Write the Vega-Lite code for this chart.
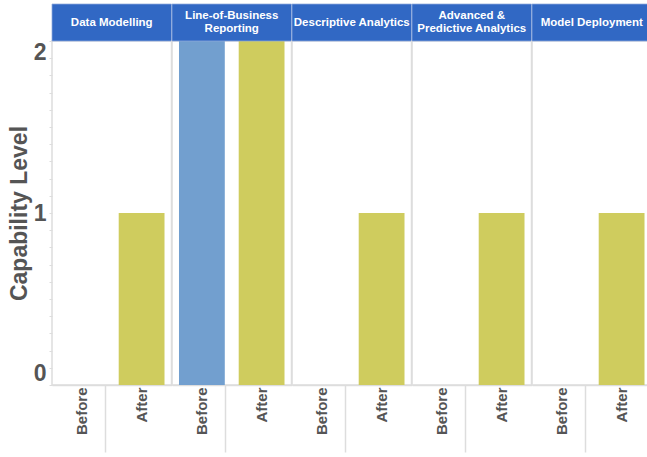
{
  "$schema": "https://vega.github.io/schema/vega-lite/v6.json",
  "padding": {"left": 8, "top": 2, "right": 0, "bottom": 0},
  "background": "white",
  "bounds": "flush",
  "data": {"values": [
    {"category": "Data Modelling", "header": "Data Modelling", "lines": 1, "status": "Before", "level": 0},
    {"category": "Data Modelling", "header": "Data Modelling", "lines": 1, "status": "After", "level": 1},
    {"category": "Line-of-Business Reporting", "header": "Line-of-Business\nReporting", "lines": 2, "status": "Before", "level": 2},
    {"category": "Line-of-Business Reporting", "header": "Line-of-Business\nReporting", "lines": 2, "status": "After", "level": 2},
    {"category": "Descriptive Analytics", "header": "Descriptive Analytics", "lines": 1, "status": "Before", "level": 0},
    {"category": "Descriptive Analytics", "header": "Descriptive Analytics", "lines": 1, "status": "After", "level": 1},
    {"category": "Advanced & Predictive Analytics", "header": "Advanced &\nPredictive Analytics", "lines": 2, "status": "Before", "level": 0},
    {"category": "Advanced & Predictive Analytics", "header": "Advanced &\nPredictive Analytics", "lines": 2, "status": "After", "level": 1},
    {"category": "Model Deployment", "header": "Model Deployment", "lines": 1, "status": "Before", "level": 0},
    {"category": "Model Deployment", "header": "Model Deployment", "lines": 1, "status": "After", "level": 1}
  ]},
  "facet": {
    "column": {
      "field": "category", "type": "nominal",
      "sort": ["Data Modelling", "Line-of-Business Reporting", "Descriptive Analytics", "Advanced & Predictive Analytics", "Model Deployment"],
      "header": {"labels": false, "title": null}
    }
  },
  "spacing": 0,
  "spec": {
    "width": 119.5,
    "height": 344,
    "layer": [
      {
        "mark": {"type": "bar"},
        "encoding": {
          "x": {
            "field": "status", "type": "nominal", "sort": ["Before", "After"],
            "scale": {"paddingInner": 0.233, "paddingOuter": 0.117},
            "axis": {
              "title": null, "labelAngle": 270, "labelFontSize": 15, "labelFontWeight": "bold", "labelColor": "#555555",
              "domain": true, "domainColor": "#dddddd", "domainWidth": 1.5,
              "tickBand": "extent", "tickSize": 67, "tickColor": "#dddddd", "tickWidth": 1.5,
              "tickOpacity": {"condition": {"test": "datum.value === 'Before'", "value": 1}, "value": 0},
              "labelPadding": -65
            }
          },
          "y": {
            "field": "level", "type": "quantitative",
            "scale": {"domain": [0, 2]},
            "axis": {
              "title": "Capability Level", "titleFontSize": 23, "titleFontWeight": "bold", "titleColor": "#555555", "titlePadding": 2,
              "labelFontWeight": "bold", "labelColor": "#555555", "labelPadding": 3, "labelFontSize": 23,
              "values": [0, 0.1, 0.2, 0.3, 0.4, 0.5, 0.6, 0.7, 0.8, 0.9, 1, 1.1, 1.2, 1.3, 1.4, 1.5, 1.6, 1.7, 1.8, 1.9, 2],
              "tickCount": 30,
              "labelExpr": "datum.value % 1 === 0 ? format(datum.value, 'd') : ''",
              "labelFlush": true, "labelOverlap": false,
              "domain": false, "grid": false, "tickSize": 3, "tickColor": "#dddddd"
            }
          },
          "color": {
            "field": "status", "type": "nominal",
            "scale": {"domain": ["Before", "After"], "range": ["#729fcf", "#cfcc5e"]},
            "legend": null
          }
        }
      },
      {
        "transform": [{"filter": "datum.status === 'After'"}],
        "mark": {"type": "rect", "color": "#3168c4", "stroke": "#8fa9dc", "strokeWidth": 0.75},
        "encoding": {
          "y": {"datum": 2},
          "y2": {"datum": 2.215}
        }
      },
      {
        "transform": [{"filter": "datum.status === 'After' && datum.lines === 1"}],
        "mark": {"type": "text", "color": "white", "fontWeight": "bold", "fontSize": 11.5, "baseline": "middle", "align": "center"},
        "encoding": {
          "y": {"datum": 2.107},
          "text": {"field": "header"}
        }
      },
      {
        "transform": [{"filter": "datum.status === 'After' && datum.lines === 2"}],
        "mark": {"type": "text", "color": "white", "fontWeight": "bold", "fontSize": 11.5, "lineBreak": "\n", "lineHeight": 13.5, "baseline": "middle", "align": "center", "dy": -6.75},
        "encoding": {
          "y": {"datum": 2.107},
          "text": {"field": "header"}
        }
      }
    ]
  },
  "config": {
    "font": "Liberation Sans",
    "view": {"stroke": "#dddddd", "strokeWidth": 1.5},
    "axisY": {"labelOverlap": false}
  }
}
